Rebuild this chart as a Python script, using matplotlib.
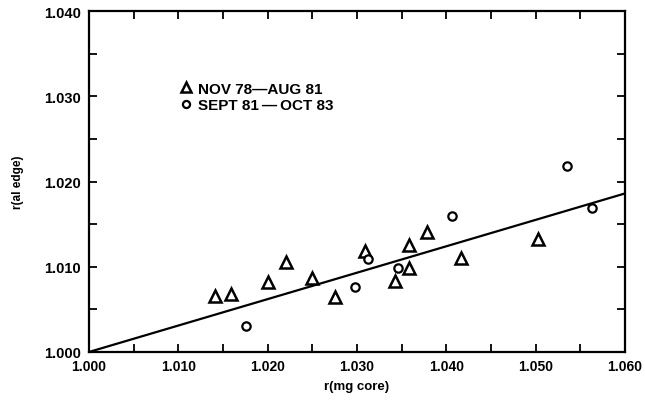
import matplotlib
matplotlib.use("Agg")
import matplotlib.pyplot as plt
from matplotlib.ticker import MultipleLocator, FormatStrFormatter

plt.rcParams["font.family"] = ["Liberation Sans", "DejaVu Sans"]
plt.rcParams["font.weight"] = "bold"

# NOV 78 - AUG 81 (triangles)
tri_x = [1.0141, 1.0159, 1.0200, 1.0220, 1.0250, 1.0275, 1.0309,
         1.0342, 1.0358, 1.0358, 1.0378, 1.0416, 1.0503]
tri_y = [1.0066, 1.0068, 1.0082, 1.0106, 1.0087, 1.0064, 1.0118,
         1.0083, 1.0099, 1.0126, 1.0141, 1.0110, 1.0132]

# SEPT 81 - OCT 83 (circles)
circ_x = [1.0176, 1.0298, 1.0312, 1.0346, 1.0406, 1.0535, 1.0563]
circ_y = [1.0030, 1.0076, 1.0109, 1.0098, 1.0159, 1.0218, 1.0169]

# fitted line
fit_x = [1.000, 1.060]
fit_y = [1.000, 1.0186]

fig = plt.figure(figsize=(6.45, 4.02), dpi=100)
ax = fig.add_axes([0.138, 0.122, 0.831, 0.848])

ax.plot(fit_x, fit_y, color="black", lw=1.6, zorder=2)
ax.plot(tri_x, tri_y, linestyle="none", marker="^", ms=8, mfc="white",
        mec="black", mew=1.8, label="NOV 78\u2014AUG 81", zorder=3)
ax.plot(circ_x, circ_y, linestyle="none", marker="o", ms=6, mfc="white",
        mec="black", mew=1.6, label="SEPT 81\u2009\u2014\u2009OCT 83", zorder=3)

ax.set_xlim(1.000, 1.060)
ax.set_ylim(1.000, 1.040)
ax.xaxis.set_major_locator(MultipleLocator(0.010))
ax.xaxis.set_minor_locator(MultipleLocator(0.005))
ax.yaxis.set_major_locator(MultipleLocator(0.010))
ax.yaxis.set_minor_locator(MultipleLocator(0.005))
ax.xaxis.set_major_formatter(FormatStrFormatter("%.3f"))
ax.yaxis.set_major_formatter(FormatStrFormatter("%.3f"))
ax.tick_params(which="both", direction="in", top=True, right=True,
               width=1.3, labelsize=10.5)
ax.tick_params(which="major", length=6)
ax.tick_params(which="minor", length=6)
ax.tick_params(axis="x", labelsize=10, pad=5)
ax.tick_params(axis="y", pad=6)
for s in ax.spines.values():
    s.set_linewidth(1.6)

ax.set_xlabel("r(mg core)", fontsize=9.5, fontweight="bold", labelpad=5)
ax.set_ylabel("r(al edge)", fontsize=8.5, fontweight="bold", labelpad=14)

ax.legend(loc="upper left", bbox_to_anchor=(0.152, 0.815), frameon=False,
          fontsize=11, handletextpad=0.3, labelspacing=0.15,
          handlelength=1.0, borderpad=0, markerscale=0.85)

fig.savefig("out.png", dpi=100)
